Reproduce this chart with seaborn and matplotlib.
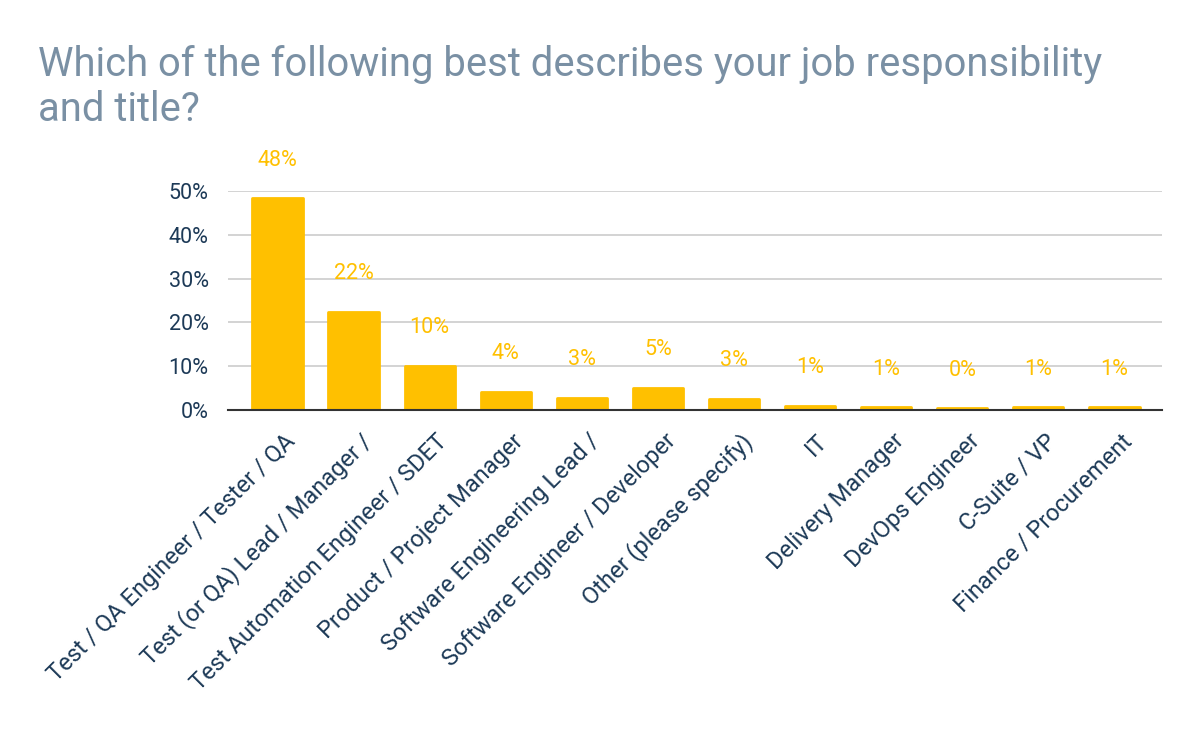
import matplotlib
matplotlib.use("Agg")
import matplotlib.pyplot as plt
import matplotlib.transforms as mtransforms
import seaborn as sns
import pandas as pd

roles = [
    "Test / QA Engineer / Tester / QA",
    "Test (or QA) Lead / Manager /",
    "Test Automation Engineer / SDET",
    "Product / Project Manager",
    "Software Engineering Lead /",
    "Software Engineer / Developer",
    "Other (please specify)",
    "IT",
    "Delivery Manager",
    "DevOps Engineer",
    "C-Suite / VP",
    "Finance / Procurement",
]
share = [48.3, 22.4, 10.1, 4.2, 2.8, 5.1, 2.6, 1.0, 0.6, 0.45, 0.6, 0.6]
yticks = [0, 10, 20, 30, 40, 50]

df = pd.DataFrame({"role": roles, "share": share})

sns.set_style("white")
plt.rcParams["font.family"] = ["Roboto", "DejaVu Sans"]

bar_color = "#FFC000"
navy = "#1d3a57"

fig = plt.figure(figsize=(12, 7.42), dpi=100)
ax = fig.add_axes([0.19, 0.4474, 0.778, 0.2952])

sns.barplot(data=df, x="role", y="share", color=bar_color, width=0.66,
            saturation=1, ax=ax, zorder=3)
for p in ax.patches:
    p.set_edgecolor(bar_color)
    p.set_linewidth(2)
    p.set_joinstyle("round")

for i, v in enumerate(share):
    ax.annotate(f"{v:.0f}%", (i, v), xytext=(0, 38), textcoords="offset pixels",
                ha="center", va="center", fontsize=15.5, color=bar_color,
                annotation_clip=False, zorder=5)

ax.set_ylim(0, 50)
ax.set_xlim(-0.65, 11.62)
ax.set_yticks(yticks)
ax.set_yticklabels([f"{t}%" for t in yticks], fontsize=15.5, color=navy)
ax.yaxis.grid(True, color="#cccccc", linewidth=1.2, zorder=0)
ax.tick_params(axis="y", length=0, pad=14)
ax.tick_params(axis="x", length=0, pad=14)
ax.set_xticks(range(len(roles)))
ax.set_xticklabels(roles, rotation=45, ha="right", rotation_mode="anchor",
                   fontsize=17, color=navy)
shift = mtransforms.ScaledTranslation(0.06, 0, fig.dpi_scale_trans)
for lab in ax.get_xticklabels():
    lab.set_transform(lab.get_transform() + shift)
ax.set_xlabel("")
ax.set_ylabel("")
for s in ["left", "right", "top"]:
    ax.spines[s].set_visible(False)
ax.spines["bottom"].set_color("#333333")
ax.spines["bottom"].set_linewidth(1.5)
ax.spines["bottom"].set_zorder(4)

fig.text(0.032, 0.94, "Which of the following best describes your job responsibility\nand title?",
         ha="left", va="top", fontsize=28.8, color="#7a90a4", linespacing=1.22)

fig.savefig("out.png", dpi=100, facecolor="white")
